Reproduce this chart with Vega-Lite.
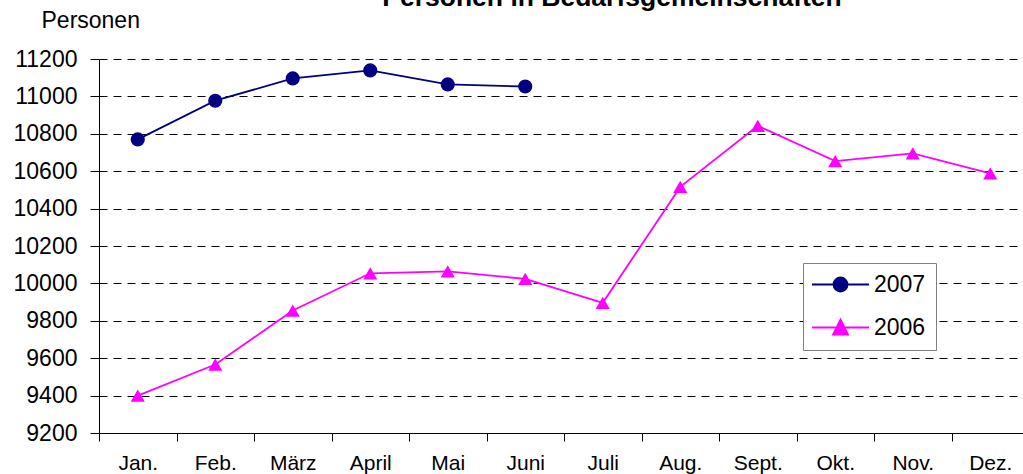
{
  "$schema": "https://vega.github.io/schema/vega-lite/v6.json",
  "autosize": "none",
  "width": 930,
  "height": 374,
  "padding": {"left": 99, "top": 59, "right": 0, "bottom": 41},
  "background": "white",
  "title": {
    "text": "Personen in Bedarfsgemeinschaften",
    "font": "Liberation Sans",
    "fontSize": 26.5,
    "fontWeight": "bold",
    "color": "black",
    "anchor": "middle",
    "frame": "group",
    "baseline": "alphabetic",
    "offset": -23,
    "dx": 48
  },
  "config": {
    "view": {"stroke": null},
    "font": "Liberation Sans",
    "axis": {"labelFont": "Liberation Sans", "titleFont": "Liberation Sans", "labelColor": "black", "titleColor": "black", "domainColor": "black", "tickColor": "black", "domainWidth": 1, "tickWidth": 1}
  },
  "data": {
    "values": [
      {"month": "Jan.", "year": "2007", "persons": 10770},
      {"month": "Feb.", "year": "2007", "persons": 10977},
      {"month": "März", "year": "2007", "persons": 11096},
      {"month": "April", "year": "2007", "persons": 11139},
      {"month": "Mai", "year": "2007", "persons": 11064},
      {"month": "Juni", "year": "2007", "persons": 11053},
      {"month": "Jan.", "year": "2006", "persons": 9400},
      {"month": "Feb.", "year": "2006", "persons": 9566},
      {"month": "März", "year": "2006", "persons": 9855},
      {"month": "April", "year": "2006", "persons": 10054},
      {"month": "Mai", "year": "2006", "persons": 10064},
      {"month": "Juni", "year": "2006", "persons": 10024},
      {"month": "Juli", "year": "2006", "persons": 9896},
      {"month": "Aug.", "year": "2006", "persons": 10516},
      {"month": "Sept.", "year": "2006", "persons": 10843},
      {"month": "Okt.", "year": "2006", "persons": 10654},
      {"month": "Nov.", "year": "2006", "persons": 10695},
      {"month": "Dez.", "year": "2006", "persons": 10588}
    ]
  },
  "encoding": {
    "x": {
      "field": "month",
      "type": "ordinal",
      "sort": ["Jan.", "Feb.", "März", "April", "Mai", "Juni", "Juli", "Aug.", "Sept.", "Okt.", "Nov.", "Dez."],
      "scale": {"type": "band", "paddingInner": 0, "paddingOuter": 0},
      "axis": {
        "title": null,
        "grid": false,
        "tickBand": "extent",
        "tickSize": 8,
        "labelAngle": 0,
        "labelFontSize": 21,
        "labelPadding": 11
      }
    },
    "y": {
      "field": "persons",
      "type": "quantitative",
      "scale": {"domain": [9200, 11200], "nice": false, "zero": false},
      "axis": {
        "values": [9200, 9400, 9600, 9800, 10000, 10200, 10400, 10600, 10800, 11000, 11200],
        "format": "d",
        "grid": true,
        "gridColor": "black",
        "gridDash": [8, 6],
        "gridWidth": 1,
        "gridOpacity": 1,
        "tickSize": 9,
        "labelFontSize": 23,
        "labelPadding": 13,
        "labelFlush": false,
        "labelOverlap": false,
        "title": "Personen",
        "titleAngle": 0,
        "titleX": -58,
        "titleY": -32,
        "titleAlign": "left",
        "titleBaseline": "alphabetic",
        "titleFontSize": 23,
        "titleFontWeight": "normal"
      }
    }
  },
  "layer": [
    {
      "mark": {"type": "line", "strokeWidth": 1.8},
      "encoding": {
        "stroke": {
          "field": "year",
          "type": "nominal",
          "scale": {"domain": ["2006", "2007"], "range": ["#ff00ff", "#000080"]},
          "legend": null
        }
      }
    },
    {
      "mark": {"type": "point", "filled": true, "opacity": 1, "size": 200},
      "encoding": {
        "shape": {
          "field": "year",
          "type": "nominal",
          "scale": {"domain": ["2006", "2007"], "range": ["triangle-up", "circle"]},
          "legend": null
        },
        "color": {
          "field": "year",
          "type": "nominal",
          "scale": {"domain": ["2007", "2006"], "range": ["#000080", "#ff00ff"]},
          "legend": {
            "title": null,
            "orient": "none",
            "legendX": 704,
            "legendY": 204,
            "strokeColor": "#808080",
            "fillColor": "white",
            "padding": 10,
            "labelFont": "Liberation Sans",
            "labelFontSize": 23,
            "labelColor": "black",
            "symbolSize": 100,
            "symbolOffset": 16,
            "labelOffset": 22,
            "rowPadding": 18,
            "symbolStrokeWidth": 1.8,
            "symbolOpacity": 1,
            "symbolType": {"expr": "datum.value == '2007' ? 'M-5.7,0H5.7M1.4,0A1.4,1.4,0,1,1,-1.4,0A1.4,1.4,0,1,1,1.4,0Z' : 'M-5.7,0H5.7M0,-1.6L1.5,1.4L-1.5,1.4Z'"},
            "symbolStrokeColor": {"expr": "datum.value == '2007' ? '#000080' : '#ff00ff'"}
          }
        }
      }
    }
  ]
}
